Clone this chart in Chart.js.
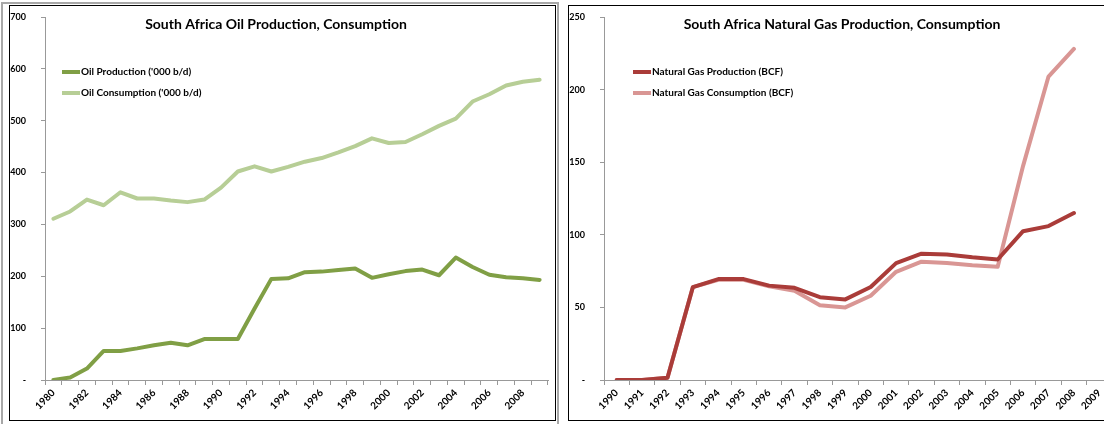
<!DOCTYPE html>
<html>
<head>
<meta charset="utf-8">
<script src="https://cdn.jsdelivr.net/npm/chart.js@4/dist/chart.umd.min.js"></script>
<style>
  body { margin: 0; width: 1104px; height: 424px; overflow: hidden; background: #fff; position: relative; font-family: Lato, sans-serif; }
  .outer { position: absolute; left: 1px; top: 2px; width: 554px; height: 440px; border: 2px solid #a8a8a8; border-bottom: none; }
  .frame { position: absolute; top: 5px; height: 416px; border: 1px solid #000; box-sizing: border-box; }
  canvas { position: absolute; }
</style>
</head>
<body>
<div class="outer"></div>
<div class="frame" style="left:9px;width:547px;"></div>
<div class="frame" style="left:568px;width:560px;"></div>
<canvas id="oilChart" style="left:10px;top:6px;width:545px;height:416px;"></canvas>
<canvas id="gasChart" style="left:568px;top:6px;width:552px;height:416px;"></canvas>
<script>
// oil chart data ('000 b/d)
let oilYears = ["1980","1981","1982","1983","1984","1985","1986","1987","1988","1989",
    "1990","1991","1992","1993","1994","1995","1996","1997","1998","1999",
    "2000","2001","2002","2003","2004","2005","2006","2007","2008","2009"];
let oilProduction = [0, 5, 22, 56, 56, 61, 67, 72, 67, 79,
    79, 79, 138, 195, 196, 208, 209, 212, 215, 197,
    204, 210, 213, 202, 236, 218, 203, 198, 196, 193];
let oilConsumption = [311, 325, 348, 337, 362, 350, 350, 346, 343, 348,
    371, 402, 412, 402, 411, 421, 428, 439, 451, 466,
    457, 459, 474, 490, 504, 537, 551, 568, 575, 579];

// natural gas chart data (BCF)
let gasYears = ["1990","1991","1992","1993","1994","1995","1996","1997","1998","1999",
    "2000","2001","2002","2003","2004","2005","2006","2007","2008","2009"];
let gasProduction = [0, 0, 1.5, 64, 69.5, 69.5, 65, 63.5, 57, 55.5,
    64, 80.5, 87, 86.5, 84.5, 83, 102.5, 106, 115, null];
let gasConsumption = [0, 0, 1.5, 64, 69, 69, 64.5, 61.5, 51.5, 50,
    58, 74.5, 81.5, 80.5, 79, 78, 147.5, 209, 228, null];

// title + legend drawn inside the plot, like the Excel original
const overlayPlugin = {
    id: 'overlay',
    afterDraw(chart, args, opts) {
        let ctx = chart.ctx;
        ctx.save();
        ctx.fillStyle = '#000';
        ctx.font = 'bold 14px Lato';
        ctx.textAlign = 'center';
        ctx.textBaseline = 'middle';
        ctx.fillText(opts.title, opts.titleX, opts.titleY);

        ctx.font = 'bold 10px Lato';
        ctx.textAlign = 'left';
        chart.data.datasets.forEach((ds, i) => {
            let y = opts.legendY + i * 21;
            ctx.strokeStyle = ds.borderColor;
            ctx.lineWidth = 4;
            ctx.beginPath();
            ctx.moveTo(opts.legendX, y);
            ctx.lineTo(opts.legendX + 18, y);
            ctx.stroke();
            ctx.fillText(ds.label, opts.legendX + 19, y);
        });
        ctx.restore();
    }
};

function makeChart(id, labels, series, yMax, yStep, everyOther, overlay, area) {
    let ctx = document.getElementById(id).getContext('2d');
    return new Chart(ctx, {
        type: 'line',
        data: {
            labels: labels,
            datasets: series.map(s => ({
                label: s.label,
                data: s.data,
                borderColor: s.color,
                backgroundColor: s.color,
                borderWidth: 4,
                pointRadius: 0,
                tension: 0,
                borderJoinStyle: 'round',
                borderCapStyle: 'round'
            }))
        },
        options: {
            responsive: false,
            animation: false,
            layout: { padding: { top: 11, right: area.right, bottom: 0, left: 0 } },
            plugins: {
                legend: { display: false },
                tooltip: { enabled: false },
                overlay: overlay
            },
            scales: {
                x: {
                    offset: true,
                    grid: { offset: true, drawOnChartArea: false, tickLength: 5, color: '#999' },
                    border: { color: '#999' },
                    ticks: {
                        autoSkip: false,
                        maxRotation: 45,
                        minRotation: 45,
                        padding: 2,
                        color: '#000',
                        font: { family: 'Lato', weight: 'bold', size: 10 },
                        callback: function (v, i) {
                            if (everyOther && i % 2 === 1) return '';
                            return this.getLabelForValue(v);
                        }
                    },
                    afterFit: s => { s.height = 42; }
                },
                y: {
                    min: 0,
                    max: yMax,
                    grid: { drawOnChartArea: false, tickLength: 4, color: '#999' },
                    border: { color: '#999' },
                    ticks: {
                        stepSize: yStep,
                        padding: area.labelPad,
                        color: '#000',
                        font: { family: 'Lato', weight: 'bold', size: 9 },
                        callback: v => v === 0 ? '-' : v
                    },
                    afterFit: s => {
                        s.width = area.left;
                        // tick padding would otherwise push the plot top down
                        s.paddingTop = 0;
                        s.paddingBottom = 0;
                    }
                }
            }
        },
        plugins: [overlayPlugin]
    });
}

document.getElementById('oilChart').width = 545;
document.getElementById('oilChart').height = 416;
document.getElementById('gasChart').width = 552;
document.getElementById('gasChart').height = 416;

makeChart('oilChart', oilYears, [
    { label: "Oil Production ('000 b/d)", data: oilProduction, color: '#809f45' },
    { label: "Oil Consumption ('000 b/d)", data: oilConsumption, color: '#b7ce96' }
], 700, 100, true,
    { title: 'South Africa Oil Production, Consumption', titleX: 266, titleY: 18, legendX: 52, legendY: 66 },
    { left: 35, right: 7, labelPad: 15 });

makeChart('gasChart', gasYears, [
    { label: 'Natural Gas Production (BCF)', data: gasProduction, color: '#aa3c39' },
    { label: 'Natural Gas Consumption (BCF)', data: gasConsumption, color: '#d99694' }
], 250, 50, false,
    { title: 'South Africa Natural Gas Production, Consumption', titleX: 274, titleY: 18, legendX: 65, legendY: 66 },
    { left: 36, right: 8, labelPad: 15 });
</script>
</body>
</html>
